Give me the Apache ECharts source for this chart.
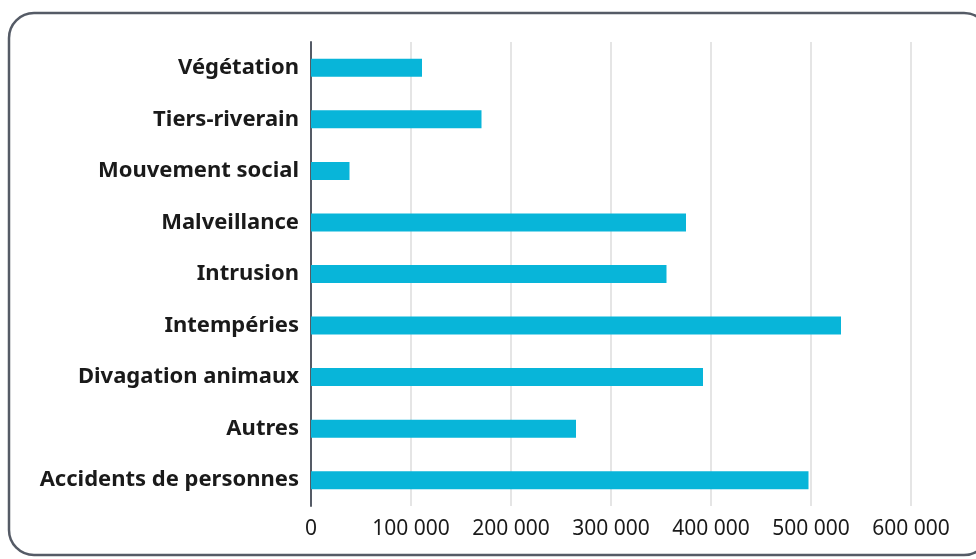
<!DOCTYPE html>
<html>
<head>
<meta charset="utf-8">
<script src="https://cdn.jsdelivr.net/npm/echarts@6/dist/echarts.min.js"></script>
<style>
  html, body { margin: 0; padding: 0; background: #fff; }
  #chart { width: 976px; height: 559px; }
</style>
</head>
<body>
<div id="chart"></div>
<script>
  // categories from bottom to top, as echarts draws a y category axis
  const categories = [
    'Accidents de personnes',
    'Autres',
    'Divagation animaux',
    'Intempéries',
    'Intrusion',
    'Malveillance',
    'Mouvement social',
    'Tiers-riverain',
    'Végétation'
  ]
  const values = [497500, 265000, 392000, 530000, 355500, 375000, 38500, 170500, 111000]
  const xTicks = [0, 100000, 200000, 300000, 400000, 500000, 600000]

  const chart = echarts.init(document.getElementById('chart'))

  chart.setOption({
    animation: false,
    graphic: [{
      type: 'rect',
      shape: { x: 9, y: 13, width: 980, height: 542, r: 25 },
      style: { fill: 'none', stroke: '#555b66', lineWidth: 2.5 },
      silent: true
    }],
    grid: {
      left: 311,
      top: 42,
      width: 600,
      height: 464
    },
    xAxis: {
      type: 'value',
      min: xTicks[0],
      max: xTicks[xTicks.length - 1],
      interval: 100000,
      axisLine: { show: false },
      axisTick: { show: false },
      splitLine: { lineStyle: { color: '#dcdcdc', width: 1.5 } },
      axisLabel: {
        margin: 13,
        fontFamily: 'Noto Sans',
        fontSize: 21,
        color: '#1a1a1a',
        formatter: v => String(v).replace(/\B(?=(\d{3})+(?!\d))/g, ' ')
      }
    },
    yAxis: {
      type: 'category',
      data: categories,
      axisLine: { lineStyle: { color: '#555b66', width: 2 } },
      axisTick: { show: false },
      axisLabel: {
        margin: 12,
        fontFamily: 'Noto Sans',
        fontWeight: 'bold',
        fontSize: 22,
        color: '#1a1a1a'
      }
    },
    series: [{
      type: 'bar',
      data: values,
      barWidth: 18,
      itemStyle: { color: '#08b5d9' }
    }]
  })
</script>
</body>
</html>
